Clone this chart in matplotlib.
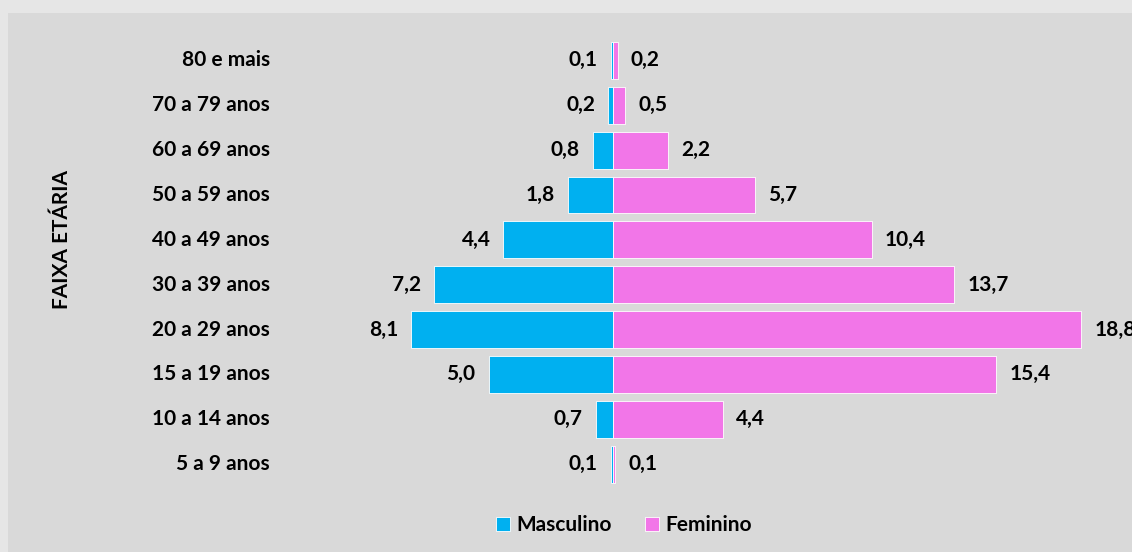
import numpy as np
import matplotlib.pyplot as plt
from matplotlib.patches import Rectangle

plt.rcParams['font.family'] = ['Lato', 'DejaVu Sans']

faixas = ["80 e mais", "70 a 79 anos", "60 a 69 anos", "50 a 59 anos", "40 a 49 anos",
          "30 a 39 anos", "20 a 29 anos", "15 a 19 anos", "10 a 14 anos", "5 a 9 anos"]
masculino = [0.1, 0.2, 0.8, 1.8, 4.4, 7.2, 8.1, 5.0, 0.7, 0.1]
feminino = [0.2, 0.5, 2.2, 5.7, 10.4, 13.7, 18.8, 15.4, 4.4, 0.1]

azul = '#00b0f0'
rosa = '#f276e8'
fs = 15

W, H = 1132, 552
fig = plt.figure(figsize=(W / 100, H / 100), dpi=100)
fig.patch.set_facecolor('#e6e6e6')
fig.patches.append(Rectangle((8 / W, 0), 1, 1 - 13 / H, transform=fig.transFigure,
                             facecolor='#d9d9d9', edgecolor='none', zorder=-10))

# axes: x from px 285 to 1132, center at 613, 24.9 px per unit
ax_left, ax_right = 285, 1132
scale = 24.9
center = 613
ax = fig.add_axes([ax_left / W, 1 - 487 / H, (ax_right - ax_left) / W, (487 - 38) / H])
ax.set_facecolor('none')
ax.set_xlim(-(center - ax_left) / scale, (ax_right - center) / scale)

y = np.arange(len(faixas))
ax.set_ylim(len(faixas) - 0.5 + 0.01, -0.5)
h = 0.82
rm = ax.barh(y, [-v for v in masculino], height=h, color=azul, edgecolor='white', linewidth=0.6)
rf = ax.barh(y, feminino, height=h, color=rosa, edgecolor='white', linewidth=0.6)

off = 13 / scale
for i in range(len(faixas)):
    ax.text(-masculino[i] - off, y[i], f"{masculino[i]:.1f}".replace('.', ','),
            ha='right', va='center', fontsize=fs, fontweight='bold', clip_on=False)
    ax.text(feminino[i] + off, y[i], f"{feminino[i]:.1f}".replace('.', ','),
            ha='left', va='center', fontsize=fs, fontweight='bold', clip_on=False)
    ax.text(-(center - 270) / scale, y[i], faixas[i], ha='right', va='center',
            fontsize=fs, fontweight='bold', clip_on=False)

for s in ax.spines.values():
    s.set_visible(False)
ax.set_xticks([])
ax.set_yticks([])

fig.text(62 / W, 1 - 240 / H, "FAIXA ETÁRIA", rotation=90, ha='center', va='center',
         fontsize=fs, fontweight='bold')

fig.legend((rm[0], rf[0]), ("Masculino", "Feminino"), loc='center',
           bbox_to_anchor=(624 / W, 1 - 525 / H), ncol=2, frameon=False,
           prop={'weight': 'bold', 'size': fs}, handlelength=0.65, handleheight=0.65,
           handletextpad=0.3, columnspacing=1.6)

fig.savefig('out.png', dpi=100, facecolor=fig.get_facecolor())
